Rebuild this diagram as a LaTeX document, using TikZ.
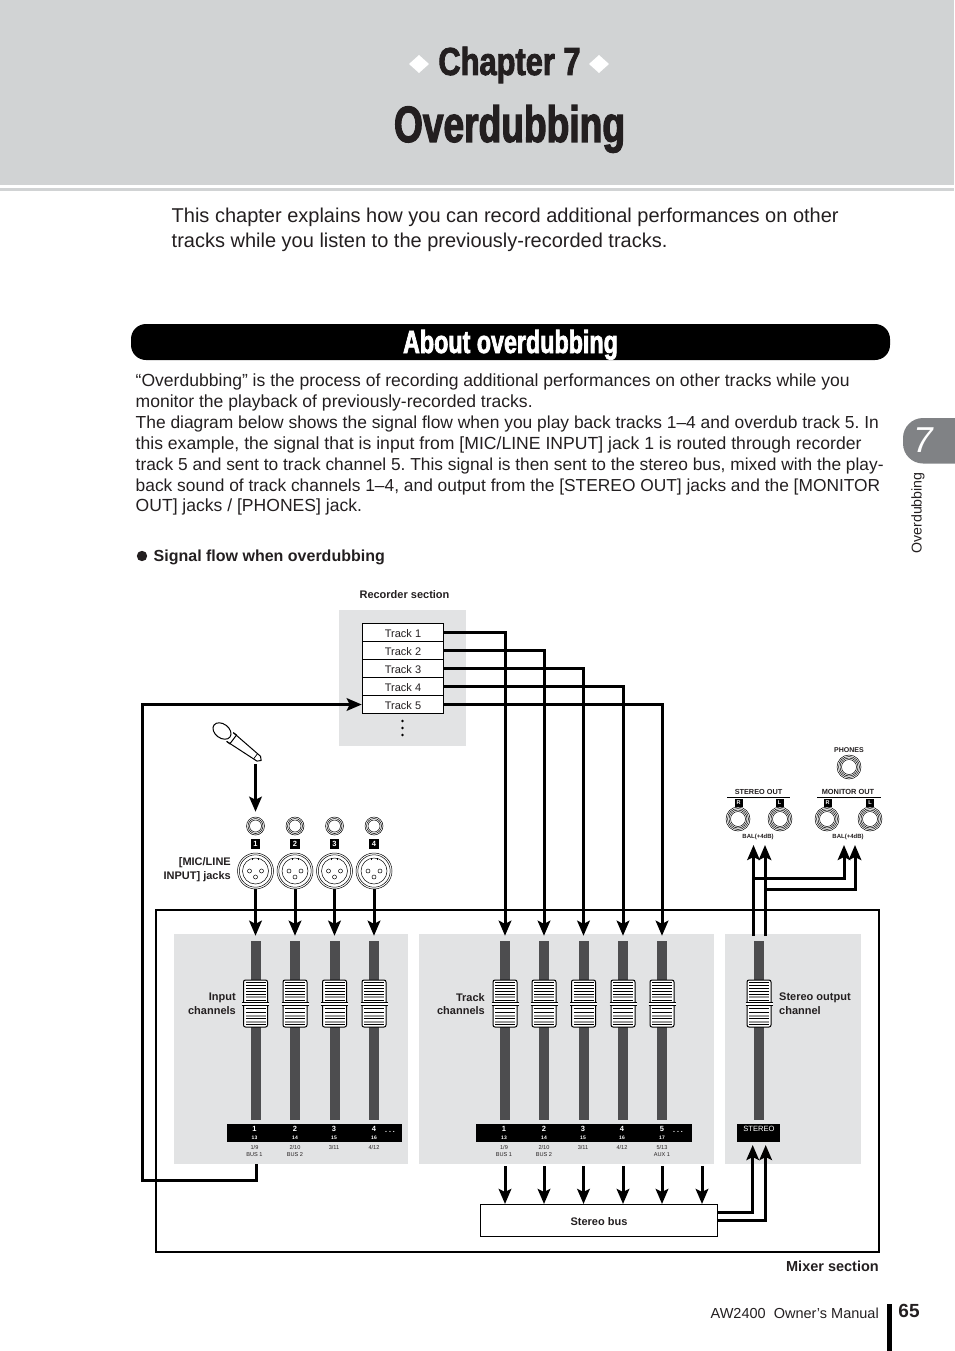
\documentclass[tikz,border=0pt]{standalone}
\usepackage{fontspec}
\setmainfont{Liberation Sans}
\newfontfamily\titlefont[FakeStretch=.728,FakeBold=2.2]{Liberation Sans Bold}
\newfontfamily\chapfont[FakeStretch=.79,FakeBold=2.2]{Liberation Sans Bold}
\newfontfamily\tabfont[FakeSlant=.18]{Liberation Sans}
\usepackage{tikz}
\usetikzlibrary{arrows.meta,calc,positioning}
\definecolor{headgray}{RGB}{209,211,212}
\definecolor{panelgray}{RGB}{226,227,228}
\definecolor{tabgray}{RGB}{128,130,133}
\definecolor{fadergray}{RGB}{77,77,79}
\definecolor{inkblack}{RGB}{35,31,32}
\newcommand{\fs}[1]{\fontsize{#1}{#1}\selectfont}
\frenchspacing
\tikzset{
 bodyline/.style={anchor=base west,inner sep=0pt,text=inkblack,font=\fs{17.55}},
 tinylabel/.style={inner sep=0pt,text=inkblack,font=\fs{5.6}},
 boldlabel/.style={inner sep=0pt,text=inkblack,font=\bfseries\fs{11}},
 jacklabel/.style={inner sep=0pt,text=inkblack,font=\bfseries\fs{7.3}},
 signal/.style={line width=3pt,black},
 ring/.style={black,line width=.5pt},
 trackbox/.style={draw=black,line width=1pt,fill=white,minimum width=81.5pt,
  minimum height=18pt,inner sep=0pt,text height=10pt,text depth=0pt,font=\fs{11},text=inkblack},
 faderbar/.style={fill=fadergray,minimum width=10pt,minimum height=179pt,inner sep=0pt},
 numtag/.style={fill=black,text=white,minimum size=9.5pt,inner sep=0pt,font=\bfseries\fs{7.5}},
 pics/knob/.style={code={
  \draw[fill=white,line width=1pt,rounded corners=2pt] (-12,-23.5) rectangle (12,23.5);
  \foreach \dy in {-21,-18,-15,-12,-9,-3.5,5,9,15,21}{
   \draw[black,line width=.8pt] (-10,\dy) -- (10,\dy);
  }
  \foreach \dy in {-6.5,12,18}{
   \draw[black!40,line width=2pt] (-10,\dy) -- (10,\dy);
  }
  \fill[white] (-13.5,-1.5) rectangle (13.5,1.5);
  \draw[black,line width=.9pt] (-13.5,-1.5) -- (13.5,-1.5) (-13.5,1.5) -- (13.5,1.5);
 }}
}
\begin{document}
\begin{tikzpicture}[x=1pt,y=-1pt,>={Stealth[length=15pt,width=12.5pt,inset=3pt]}]
 \useasboundingbox (0,0) rectangle (954,1351);
 % page head
 \fill[headgray] (0,0) rectangle (954,185);
 \fill[headgray] (0,188) rectangle (954,191);
 \fill[white] (419,55) -- (429,64) -- (419,73) -- (409,64) -- cycle;
 \fill[white] (599,55) -- (609,64) -- (599,73) -- (589,64) -- cycle;
 \node[anchor=base,inner sep=0pt,text=inkblack,font=\chapfont\fs{39}] (chap) at (509.5,75) {Chapter 7};
 \node[anchor=base,inner sep=0pt,text=inkblack,font=\titlefont\fs{51}] (title) at (509.5,142) {Overdubbing};
 \foreach \i/\y/\t in {1/222.7/{This chapter explains how you can record additional performances on other},
  2/247/{tracks while you listen to the previously-recorded tracks.}}{
  \node[bodyline,font=\fs{20}] (intro\i) at (171.5,\y) {\t};
 }
 % section bar
 \fill[black,rounded corners=15pt] (131,324) rectangle (890,360);
 \node[anchor=base,inner sep=0pt,text=white,font=\titlefont\fs{32}] (about) at (510.5,353) {About overdubbing};
 \foreach \i/\y/\sz/\t in {1/386/17.55/{“Overdubbing” is the process of recording additional performances on other tracks while you},
  2/407/17.55/{monitor the playback of previously-recorded tracks.},
  3/428/17.41/{The diagram below shows the signal flow when you play back tracks 1–4 and overdub track 5. In},
  4/449/17.6/{this example, the signal that is input from [MIC/LINE INPUT] jack 1 is routed through recorder},
  5/470/17.34/{track 5 and sent to track channel 5. This signal is then sent to the stereo bus, mixed with the play-},
  6/491/17.36/{back sound of track channels 1–4, and output from the [STEREO OUT] jacks and the [MONITOR},
  7/511/17.55/{OUT] jacks / [PHONES] jack.}}{
  \node[bodyline,font=\fs{\sz}] (para\i) at (135.5,\y) {\t};
 }
 \fill[inkblack] (142,556) circle(5.2);
 \node[anchor=base west,inner sep=0pt,text=inkblack,font=\bfseries\fs{16}] (flowhead) at (153.5,561) {Signal flow when overdubbing};
 % side tab
 \fill[tabgray,rounded corners=20pt] (975,418) -- (903,418) -- (903,463.5) -- (975,463.5) -- cycle;
 \node[inner sep=0pt,text=white,font=\tabfont\fs{36}] (tabnum) at (921,440) {7};
 \node[rotate=90,inner sep=0pt,text=inkblack,font=\fs{14.2}] (tabtext) at (918,513) {Overdubbing};
 % recorder section
 \fill[panelgray] (339,610) rectangle (466,746);
 \node[boldlabel] (reclabel) at (404.5,594.7) {Recorder section};
 \foreach \i/\y in {1/632.5,2/650.5,3/668.5,4/686.5,5/704.5}{
  \node[trackbox] (trk\i) at (403,\y) {Track \i};
 }
 \foreach \y in {721,728,735}{
  \fill[black] (402.5,\y) circle(1.3);
 }
 % mixer section
 \draw[black,line width=2pt] (156,910) rectangle (879,1252);
 \node[anchor=east,inner sep=0pt,text=inkblack,font=\bfseries\fs{14.5}] (mixlabel) at (879,1266) {Mixer section};
 \fill[panelgray] (174,934) rectangle (408,1164);
 \fill[panelgray] (419,934) rectangle (714,1164);
 \fill[panelgray] (725,934) rectangle (861,1164);
 \foreach \nm/\cx in {in1/255.5,in2/295,in3/334.5,in4/374,tc1/505,tc2/544,tc3/583.5,tc4/623,tc5/662,st/759}{
  \node[faderbar] (\nm) at (\cx,1030.5) {};
  \pic at (\cx,1003.5) {knob};
 }
 \node[boldlabel,anchor=east] (inla) at (236,998) {Input};
 \node[boldlabel,anchor=east] (inlb) at (236,1011) {channels};
 \node[boldlabel,anchor=east] (trla) at (485,998) {Track};
 \node[boldlabel,anchor=east] (trlb) at (485,1011) {channels};
 \node[boldlabel,anchor=west] (stla) at (779,998) {Stereo output};
 \node[boldlabel,anchor=west] (stlb) at (779,1011) {channel};
 % channel strips
 \fill[black] (227,1124) rectangle (402,1142);
 \fill[black] (476,1124) rectangle (692,1142);
 \fill[black] (737,1124) rectangle (780,1142);
 \node[inner sep=0pt,text=white,font=\fs{7.6}] (ststrip) at (759,1129) {STEREO};
 \foreach \i/\cx/\n/\m/\p/\q in {1/254.5/1/13/{1/9}/{BUS 1},2/295/2/14/{2/10}/{BUS 2},3/334/3/15/{3/11}/{},4/374/4/16/{4/12}/{},
  5/504/1/13/{1/9}/{BUS 1},6/544/2/14/{2/10}/{BUS 2},7/583/3/15/{3/11}/{},8/622/4/16/{4/12}/{},9/662/5/17/{5/13}/{AUX 1}}{
  \node[inner sep=0pt,text=white,font=\bfseries\fs{7.5}] (chn\i) at (\cx,1129) {\n};
  \node[inner sep=0pt,text=white,font=\bfseries\fs{5}] (chm\i) at (\cx,1137.5) {\m};
  \node[tinylabel] (chp\i) at (\cx,1147) {\p};
  \node[tinylabel] (chq\i) at (\cx,1155) {\q};
 }
 \node[inner sep=0pt,text=white,font=\bfseries\fs{7}] (indots) at (390,1132) {. . .};
 \node[inner sep=0pt,text=white,font=\bfseries\fs{7}] (trdots) at (678,1132) {. . .};
 % input jacks
 \node[boldlabel,anchor=east] (micla) at (231,863) {[MIC/LINE};
 \node[boldlabel,anchor=east] (miclb) at (231,877) {INPUT] jacks};
 \foreach \i/\cx in {1/255.5,2/295,3/334.5,4/374}{
  \node[circle,draw=black,line width=.5pt,minimum size=18pt,inner sep=0pt] (mj\i) at (\cx,826) {};
  \draw[ring] (mj\i) circle(7.5) (mj\i) circle(6);
  \node[numtag] (tag\i) at (\cx,844) {\i};
  \node[circle,draw=black,line width=.5pt,minimum size=36pt,inner sep=0pt] (xl\i) at (\cx,871) {};
  \draw[ring] (xl\i) circle(16.2) (xl\i) circle(13);
  \draw[ring] ($(xl\i)+(-6,0)$) circle(2) ($(xl\i)+(6,0)$) circle(2) ($(xl\i)+(0,6)$) circle(2);
  \draw[ring] ($(xl\i)+(-3,-11)$) -- ($(xl\i)+(-3,-13)$) ($(xl\i)+(3,-11)$) -- ($(xl\i)+(3,-13)$);
  \draw[signal,->,shorten >=5pt] (xl\i.south) -- (in\i.north);
 }
 % microphone
 \begin{scope}[shift={(222,731)},rotate=-37,x=1pt,y=1pt]
  \draw[black,fill=white,line width=1pt] (10,5.5) -- (46,3) -- (49,0) -- (46,-3) -- (10,-5.5);
  \draw[black,fill=white,line width=1pt] (0,0) ellipse(10 and 7);
  \draw[black,line width=1pt] (10,-5.5) -- (14,-5.5) -- (14,5.5) -- (10,5.5);
  \draw[black,line width=.7pt] (42,-3) -- (42,3);
 \end{scope}
 \coordinate (micend) at (255.5,764);
 \draw[signal,->,shorten >=5pt] (micend) -- (mj1.north);
 % output jacks
 \node[jacklabel,font=\bfseries\fs{7}] (phlabel) at (849,750) {PHONES};
 \node[jacklabel] (solabel) at (758.5,792) {STEREO OUT};
 \node[jacklabel,font=\bfseries\fs{7.4}] (molabel) at (848,792) {MONITOR OUT};
 \draw[black,line width=.7pt] (727,797) -- (790,797);
 \draw[black,line width=.7pt] (817,797) -- (881,797);
 \node[jacklabel,font=\bfseries\fs{6}] (bal1) at (758,837) {BAL(+4dB)};
 \node[jacklabel,font=\bfseries\fs{6}] (bal2) at (848,837) {BAL(+4dB)};
 \foreach \nm/\cx/\cy in {ph/849/767,sor/738/819,sol/780/819,mor/827/819,mol/870/819}{
  \node[circle,draw=black,line width=.5pt,minimum size=24pt,inner sep=0pt] (\nm) at (\cx,\cy) {};
  \draw[ring] (\nm) circle(10.5) (\nm) circle(9) (\nm) circle(7.5);
 }
 \foreach \nm/\cx/\t in {ta/738.5/R,tb/779.5/L,tc/827.5/R,td/870/L}{
  \node[numtag,minimum size=8pt,font=\bfseries\fs{5.5}] (\nm) at (\cx,803) {\t};
 }
 % track lines
 \foreach \i in {1,...,5}{
  \draw[signal,->,shorten >=5pt] (trk\i.east) -| (tc\i.north);
 }
 \coordinate (loopstart) at (256,1164);
 \draw[signal,->] (loopstart) -- (256,1180.5) -- (142.5,1180.5) |- (trk5.west);
 % stereo out lines
 \coordinate (stoa) at (753.5,936);
 \coordinate (stob) at (765,936);
 \coordinate (bra) at (753.5,878);
 \coordinate (brb) at (765,889);
 \coordinate (moa) at (844,845);
 \coordinate (mob) at (855,845);
 \draw[signal,->] (stoa) -- (stoa |- moa);
 \draw[signal,->] (stob) -- (stob |- mob);
 \draw[signal,->] (bra) -| (moa);
 \draw[signal,->] (brb) -| (mob);
 % stereo bus
 \node[draw=black,line width=1pt,fill=white,minimum width=237pt,minimum height=32pt,inner sep=0pt,
  text height=10pt,text depth=0pt,text=inkblack,font=\bfseries\fs{11}] (bus) at (599,1220.5) {Stereo bus};
 \foreach \i/\cx in {1/505,2/544,3/583.5,4/623,5/662,6/702}{
  \coordinate (bt\i) at (\cx,1166);
  \draw[signal,->] (bt\i) -- (bt\i |- bus.north);
 }
 \coordinate (boa) at (717.5,1212);
 \coordinate (bob) at (717.5,1220);
 \coordinate (sba) at (752.7,1145);
 \coordinate (sbb) at (765.7,1145);
 \draw[signal,->] (boa) -| (sba);
 \draw[signal,->] (bob) -| (sbb);
 % page foot
 \fill[black] (887,1304) rectangle (892,1351);
 \node[anchor=base east,inner sep=0pt,text=inkblack,font=\fs{14.5}] (manual) at (879,1318) {AW2400\ \ Owner’s Manual};
 \node[anchor=base,inner sep=0pt,text=inkblack,font=\bfseries\fs{19}] (pagenum) at (909,1317.5) {65};
\end{tikzpicture}
\end{document}
